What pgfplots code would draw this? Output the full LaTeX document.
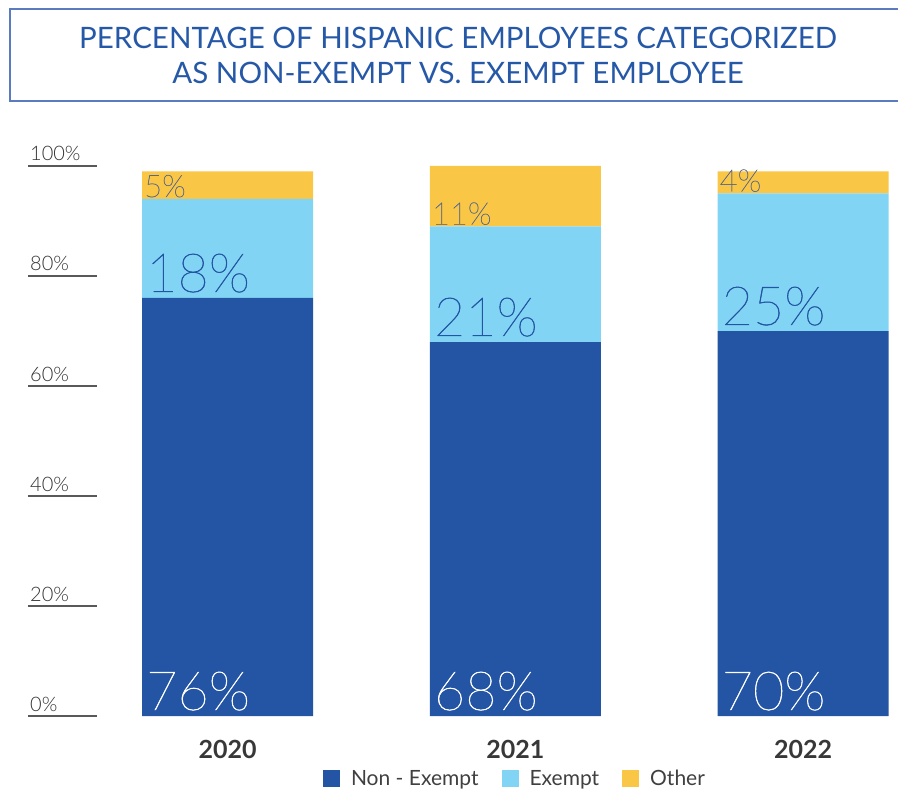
\documentclass[border=0pt]{standalone}
\usepackage{pgfplots}
\pgfplotsset{compat=1.18}
\usepackage{fontspec}
\setmainfont{Lato}
\newfontfamily\thinf{Lato Thin}[FakeBold=0.9, UprightFeatures={FakeBold=0.9}]
\newfontfamily\lightf{Lato Light}
\definecolor{dblue}{RGB}{35,85,164}
\definecolor{lblue}{RGB}{129,212,243}
\definecolor{yel}{RGB}{249,198,70}
\definecolor{tblue}{RGB}{38,88,168}
\definecolor{boxc}{RGB}{90,124,190}
\definecolor{ygray}{RGB}{88,104,138}
\begin{document}
\begin{tikzpicture}
\useasboundingbox (0pt,0pt) rectangle (898pt,-794pt);
\draw[boxc, line width=1.5pt] (10pt,-9pt) rectangle (910pt,-101pt);
\node[tblue, align=center, font=\fontsize{29.5}{35}\selectfont] at (458pt,-55.5pt)
  {PERCENTAGE OF HISPANIC EMPLOYEES CATEGORIZED\\AS NON-EXEMPT VS. EXEMPT EMPLOYEE};
\begin{axis}[
  at={(97pt,-716pt)}, anchor=south west,
  scale only axis, width=801pt, height=550pt,
  xmin=-0.45352, xmax=2.33015, ymin=0, ymax=100,
  ybar stacked, bar width=171pt,
  axis x line=none, axis y line*=left,
  y axis line style={draw=none},
  ytick={0,20,40,60,80,100},
  yticklabels={0\%,20\%,40\%,60\%,80\%,100\%},
  tick align=outside, major tick length=69pt,
  ytick style={draw=black!65, line width=1.2pt},
  yticklabel style={anchor=base west, inner sep=0pt, xshift=2pt, yshift=5pt,
     font=\lightf\fontsize{20}{24}\selectfont, text=black!80},
  legend columns=3,
  legend style={draw=none, at={(0.5087,-0.1145)}, anchor=center,
     font=\fontsize{21}{25}\selectfont, text=black!75},
  legend image code/.code={\path (-21pt,0pt); \fill[#1] (0pt,-8.5pt) rectangle (17pt,8.5pt); \path (26pt,0pt);},
  clip=false,
]
\addplot[fill=dblue, draw=none] coordinates {(0,76) (1,68) (2,70)};
\addplot[fill=lblue, draw=none] coordinates {(0,18) (1,21) (2,25)};
\addplot[fill=yel, draw=none] coordinates {(0,5) (1,11) (2,4)};
\legend{Non - Exempt, Exempt, Other}
\coordinate (y0) at (axis cs:0,0);
\coordinate (y1) at (axis cs:1,0);
\coordinate (y2) at (axis cs:2,0);
\coordinate (a1) at (axis cs:-0.29714,0);
\coordinate (a2) at (axis cs:-0.29714,76);
\coordinate (a3) at (axis cs:-0.29714,94);
\coordinate (b1) at (axis cs:0.70286,0);
\coordinate (b2) at (axis cs:0.70286,68);
\coordinate (b3) at (axis cs:0.70286,89);
\coordinate (c1) at (axis cs:1.70286,0);
\coordinate (c2) at (axis cs:1.70286,70);
\coordinate (c3) at (axis cs:1.70286,95);
\end{axis}
\tikzset{yr/.style={anchor=base, font=\bfseries\fontsize{25}{30}\selectfont, text=black!78, yshift=-42pt},
  big/.style={anchor=base west, inner sep=0pt, font=\thinf\fontsize{54}{60}\selectfont, xshift=4pt, yshift=6pt},
  small/.style={anchor=base west, inner sep=0pt, font=\thinf\fontsize{31}{36}\selectfont, xshift=2pt, yshift=2pt, text=ygray}}
\node[yr] at (y0) {2020};
\node[yr] at (y1) {2021};
\node[yr] at (y2) {2022};
\node[big, white] at (a1) {76\%};
\node[big, dblue] at (a2) {18\%};
\node[small] at (a3) {5\%};
\node[big, white] at (b1) {68\%};
\node[big, dblue] at (b2) {21\%};
\node[small] at (b3) {11\%};
\node[big, white] at (c1) {70\%};
\node[big, dblue] at (c2) {25\%};
\node[small] at (c3) {4\%};
\end{tikzpicture}
\end{document}
